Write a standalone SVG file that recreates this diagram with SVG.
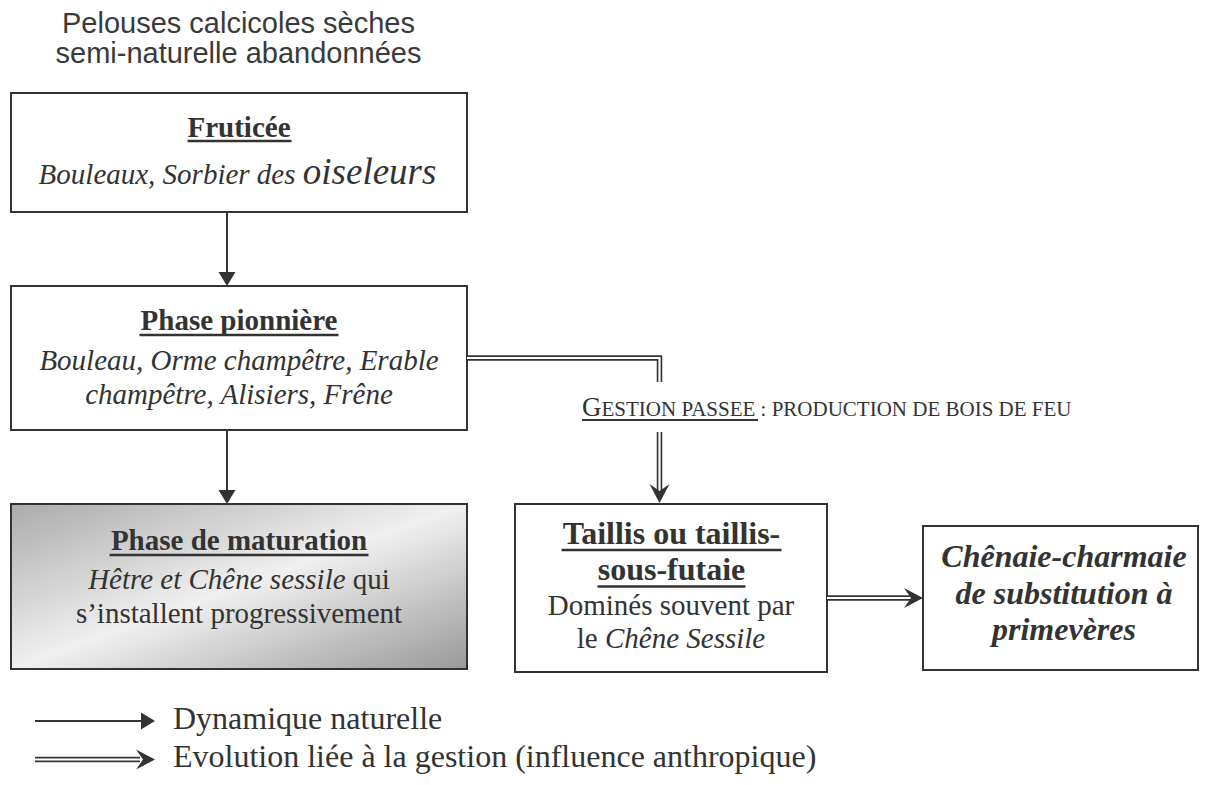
<svg xmlns="http://www.w3.org/2000/svg" xmlns:xlink="http://www.w3.org/1999/xlink" width="1209" height="785" viewBox="0 0 1209 785">
  <style>
    .box { fill: #ffffff; stroke: #333333; stroke-width: 2; }
    .serif { font-family: "Liberation Serif", "Times New Roman", serif; fill: #333333; }
    .sans { font-family: "Liberation Sans", Arial, sans-serif; fill: #3a3a3a; }
    .title { font-weight: bold; font-size: 29px; }
    .big { font-weight: bold; font-size: 32px; }
    .body { font-size: 29px; }
    .it { font-style: italic; }
    .ul { stroke: #333333; stroke-width: 2.5; }
    .line { fill: none; stroke: #333333; stroke-width: 2; }
    .dbl-o { fill: none; stroke: #333333; stroke-width: 5.5; }
    .dbl-i { fill: none; stroke: #ffffff; stroke-width: 2.2; }
    .head { fill: #333333; }
  </style>
  <defs>
    <linearGradient id="matGrad" x1="0" y1="0" x2="1" y2="1">
      <stop offset="0" stop-color="#ababab"/>
      <stop offset="0.5" stop-color="#f0f0f0"/>
      <stop offset="1" stop-color="#999999"/>
    </linearGradient>
    <!-- arrowheads, tip at origin, pointing to +x -->
    <path id="tri" d="M0,0 L-14,-8.5 L-14,8.5 Z"/>
    <path id="barb" d="M0,0 L-19,-10 L-12,0 L-19,10 Z"/>
  </defs>

  <!-- heading above the first stage -->
  <g id="heading" class="sans" font-size="29" text-anchor="middle">
    <text x="238.5" y="33">Pelouses calcicoles sèches</text>
    <text x="238.5" y="63">semi-naturelle abandonnées</text>
  </g>

  <g id="fruticee">
    <rect class="box" x="11" y="93" width="456" height="119"/>
    <text class="serif title" x="239" y="137" text-anchor="middle">Fruticée</text>
    <line class="ul" x1="187.5" y1="141" x2="291.5" y2="141"/>
    <text class="serif it" x="237.5" y="184" text-anchor="middle"><tspan font-size="29">Bouleaux, Sorbier des </tspan><tspan font-size="37">oiseleurs</tspan></text>
  </g>

  <g id="phase-pionniere">
    <rect class="box" x="11" y="286" width="456" height="144"/>
    <text class="serif title" x="239" y="330" text-anchor="middle">Phase pionnière</text>
    <line class="ul" x1="139.5" y1="335" x2="338.5" y2="335"/>
    <text class="serif body it" x="239" y="370" text-anchor="middle">Bouleau, Orme champêtre, Erable</text>
    <text class="serif body it" x="239" y="404" text-anchor="middle">champêtre, Alisiers, Frêne</text>
  </g>

  <g id="phase-maturation">
    <rect class="box" x="11" y="504" width="456" height="165" fill="url(#matGrad)" style="fill:url(#matGrad)"/>
    <text class="serif title" x="239" y="550" text-anchor="middle">Phase de maturation</text>
    <line class="ul" x1="109.5" y1="555" x2="368.5" y2="555"/>
    <text class="serif body" x="239" y="589" text-anchor="middle"><tspan font-style="italic">Hêtre et Chêne sessile</tspan> qui</text>
    <text class="serif body" x="239" y="623" text-anchor="middle">s’installent progressivement</text>
  </g>

  <g id="taillis">
    <rect class="box" x="515" y="504" width="312" height="168"/>
    <text class="serif big" x="671.5" y="544" text-anchor="middle">Taillis ou taillis-</text>
    <line class="ul" x1="561.5" y1="550" x2="781.5" y2="550"/>
    <text class="serif big" x="671.5" y="580" text-anchor="middle">sous-futaie</text>
    <line class="ul" x1="597.5" y1="586.5" x2="745.5" y2="586.5"/>
    <text class="serif body" x="671" y="615" text-anchor="middle">Dominés souvent par</text>
    <text class="serif body" x="671" y="648" text-anchor="middle">le <tspan font-style="italic">Chêne Sessile</tspan></text>
  </g>

  <g id="chenaie">
    <rect class="box" x="923" y="526" width="275" height="144"/>
    <g class="serif it" font-weight="bold" font-size="32" text-anchor="middle">
      <text x="1064" y="567">Chênaie-charmaie</text>
      <text x="1064" y="604">de substitution à</text>
      <text x="1064" y="640">primevères</text>
    </g>
  </g>

  <g id="gestion-label" class="serif">
    <text x="582" y="416"><tspan font-size="27">G</tspan><tspan font-size="21">ESTION PASSEE</tspan><tspan font-size="21"> : PRODUCTION DE BOIS DE FEU</tspan></text>
    <line stroke="#333333" stroke-width="2" x1="582" y1="420" x2="758" y2="420"/>
  </g>

  <g id="connectors">
    <!-- natural dynamics -->
    <line class="line" x1="227" y1="212" x2="227" y2="274"/>
    <use xlink:href="#tri" href="#tri" class="head" transform="translate(227,286) rotate(90)"/>
    <line class="line" x1="227" y1="430" x2="227" y2="492"/>
    <use xlink:href="#tri" href="#tri" class="head" transform="translate(227,504) rotate(90)"/>

    <!-- management: pioneer phase to coppice -->
    <path class="dbl-o" d="M467,358 H659.5 V382"/>
    <path class="dbl-i" d="M467,358 H659.5 V382"/>
    <path class="dbl-o" d="M659.5,432 V492"/>
    <path class="dbl-i" d="M659.5,432 V494"/>
    <use xlink:href="#barb" href="#barb" class="head" transform="translate(659.5,503) rotate(90)"/>

    <!-- management: coppice to oak-hornbeam -->
    <path class="dbl-o" d="M827,598 H912"/>
    <path class="dbl-i" d="M827,598 H914"/>
    <use xlink:href="#barb" href="#barb" class="head" transform="translate(923,598)"/>
  </g>

  <g id="legend">
    <line class="line" x1="35" y1="721" x2="142" y2="721"/>
    <use xlink:href="#tri" href="#tri" class="head" transform="translate(155,721)"/>
    <text class="serif" font-size="32" x="173" y="729">Dynamique naturelle</text>

    <path class="dbl-o" d="M35,759.5 H140"/>
    <path class="dbl-i" d="M35,759.5 H142"/>
    <use xlink:href="#barb" href="#barb" class="head" transform="translate(155,759.5)"/>
    <text class="serif" font-size="32" x="173" y="767">Evolution liée à la gestion (influence anthropique)</text>
  </g>
</svg>
